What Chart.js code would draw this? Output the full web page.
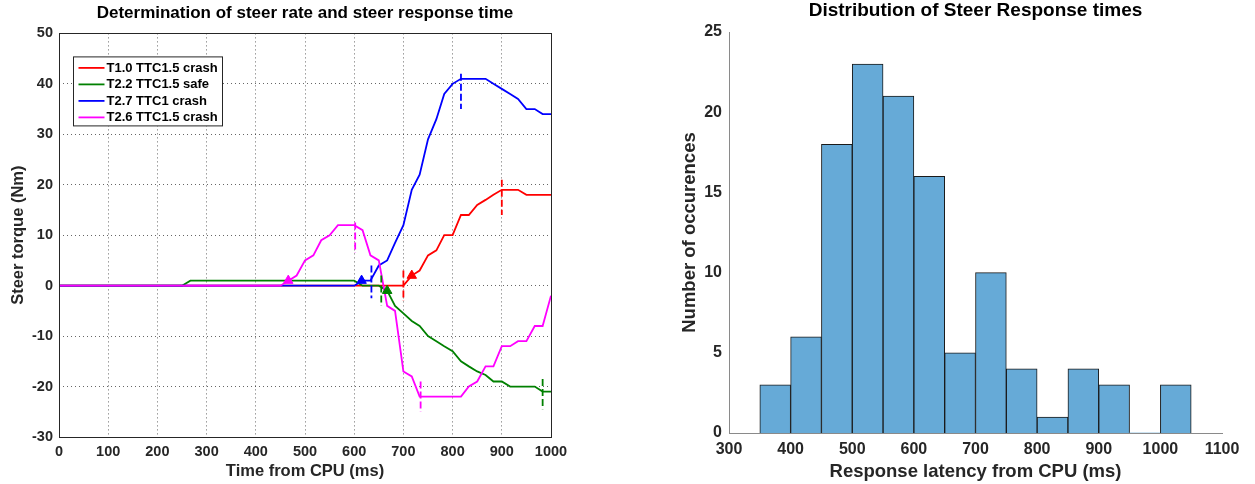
<!DOCTYPE html>
<html>
<head>
<meta charset="utf-8">
<script src="https://cdn.jsdelivr.net/npm/chart.js@4.4.0/dist/chart.umd.min.js"></script>
<style>
  body { margin: 0; background: #fff; width: 1255px; height: 484px; overflow: hidden; position: relative; }
  .panel { position: absolute; top: 0; height: 484px; }
  #left { left: 0; width: 600px; }
  #right { left: 620px; width: 635px; }
</style>
</head>
<body>
<div class="panel" id="left"><canvas id="steerChart"></canvas></div>
<div class="panel" id="right"><canvas id="histChart"></canvas></div>
<script>
// steer torque traces (time in ms from CPU, torque in Nm)
const t10Time   = [0, 700, 717, 733, 750, 767, 783, 800, 817, 833, 850, 867, 883, 900, 917, 933, 950, 967, 983, 1000];
const t10Torque = [0, 0, 2, 3, 6, 7, 10, 10, 14, 14, 16, 17, 18, 19, 19, 19, 18, 18, 18, 18];

const t22Time   = [0, 250, 267, 600, 617, 633, 650, 667, 683, 700, 717, 733, 750, 767, 783, 800, 817, 833, 850, 867, 883, 900, 917, 933, 950, 967, 983, 1000];
const t22Torque = [0, 0, 1, 1, 0, 0, 0, -1, -4, -5.5, -7, -8, -10, -11, -12, -13, -15, -16, -17, -17.7, -19, -19, -20, -20, -20, -20, -21, -21];

const t27Time   = [0, 600, 617, 633, 650, 667, 683, 700, 717, 733, 750, 767, 783, 800, 817, 833, 850, 867, 883, 900, 917, 933, 950, 967, 983, 1000];
const t27Torque = [0, 0, 1, 1, 4, 5, 8.5, 12, 19, 22, 29, 33, 38, 40, 41, 41, 41, 41, 40, 39, 38, 37, 35, 35, 34, 34];

const t26Time   = [0, 450, 467, 483, 500, 517, 533, 550, 567, 583, 600, 617, 633, 650, 667, 683, 700, 717, 733, 750, 767, 783, 800, 817, 833, 850, 867, 883, 900, 917, 933, 950, 967, 983, 1000];
const t26Torque = [0, 0, 1, 2, 5, 6, 9, 10, 12, 12, 12, 11, 6, 5, -4, -5, -17, -18, -22, -22, -22, -22, -22, -22, -20, -19, -16, -16, -12, -12, -11, -11, -8, -8, -2];

const traceLabels = ['T1.0 TTC1.5 crash', 'T2.2 TTC1.5 safe', 'T2.7 TTC1 crash', 'T2.6 TTC1.5 crash'];
const traceColors = ['#ff0000', '#008000', '#0000ff', '#ff00ff'];

// steer onset (triangle) per trace
const onsetTime   = [717, 667, 615, 466];
const onsetTorque = [2, -1, 1, 1];

// dashed markers: response start and peak torque
const startTime   = [700, 655, 635, 602];
const startTop    = [3, 2, 4, 12.5];
const startBottom = [-3, -4, -2.5, 6.5];
const peakTime    = [900, 983, 817, 735];
const peakTop     = [21, -18.5, 42, -19];
const peakBottom  = [14, -24.5, 35, -25];

// histogram of response latency
const binCenters = [375, 425, 475, 525, 575, 625, 675, 725, 775, 825, 875, 925, 975, 1025];
const binCounts  = [3, 6, 18, 23, 21, 16, 5, 10, 4, 1, 4, 3, 0, 3];

const FONT = '"Liberation Sans", Arial, Helvetica, sans-serif';
const AXIS_TXT = '#262626';

const toPoints = (xs, ys) => xs.map((x, i) => ({ x: x, y: ys[i] }));
const plainTick = (v) => String(v);

const traces = [
  [t10Time, t10Torque],
  [t22Time, t22Torque],
  [t27Time, t27Torque],
  [t26Time, t26Torque]
];

const steerDatasets = [];
traces.forEach(([xs, ys], i) => {
  steerDatasets.push({
    label: traceLabels[i],
    data: toPoints(xs, ys),
    borderColor: traceColors[i],
    borderWidth: 1.8,
    pointRadius: 0,
    tension: 0,
    order: 4 - i
  });
});
traceColors.forEach((c, i) => {
  steerDatasets.push({
    data: [{ x: startTime[i], y: startTop[i] }, { x: startTime[i], y: startBottom[i] }],
    borderColor: c, borderWidth: 1.8, borderDash: [7, 3], pointRadius: 0, order: 0
  });
  steerDatasets.push({
    data: [{ x: peakTime[i], y: peakTop[i] }, { x: peakTime[i], y: peakBottom[i] }],
    borderColor: c, borderWidth: 1.8, borderDash: [7, 3], pointRadius: 0, order: 0
  });
});
steerDatasets.push({
  data: toPoints(onsetTime, onsetTorque),
  showLine: false,
  pointStyle: 'triangle',
  pointRadius: 5.5,
  pointBackgroundColor: traceColors,
  pointBorderColor: traceColors,
  pointBorderWidth: 1,
  order: 0
});

// box around plot + legend in the upper-left corner
const framePlugin = {
  id: 'frame',
  afterDatasetsDraw(chart) {
    const { ctx, chartArea: a } = chart;
    ctx.save();
    ctx.strokeStyle = AXIS_TXT;
    ctx.lineWidth = 1;
    ctx.strokeRect(Math.round(a.left) + 0.5, Math.round(a.top) + 0.5,
      Math.round(a.right - a.left), Math.round(a.bottom - a.top));

    const bx = a.left + 14.5, by = a.top + 23.5, bw = 149, bh = 69;
    ctx.fillStyle = '#fff';
    ctx.fillRect(bx, by, bw, bh);
    ctx.strokeStyle = '#262626';
    ctx.strokeRect(bx, by, bw, bh);
    ctx.font = 'bold 13px ' + FONT;
    ctx.textBaseline = 'middle';
    traceLabels.forEach((lab, i) => {
      const y = by + 11 + i * 16.5;
      ctx.strokeStyle = traceColors[i];
      ctx.lineWidth = 1.8;
      ctx.beginPath();
      ctx.moveTo(bx + 5, y);
      ctx.lineTo(bx + 31, y);
      ctx.stroke();
      ctx.fillStyle = '#000';
      ctx.fillText(lab, bx + 33, y + 0.5);
    });
    ctx.restore();
  }
};

const zeroPad = (scale) => {
  scale.paddingLeft = 0; scale.paddingRight = 0;
  scale.paddingTop = 0; scale.paddingBottom = 0;
};

new Chart(document.getElementById('steerChart'), {
  type: 'line',
  data: { datasets: steerDatasets },
  options: {
    responsive: true,
    maintainAspectRatio: false,
    animation: false,
    layout: { padding: { left: 0, right: 49, top: 0, bottom: 0 } },
    plugins: {
      legend: { display: false },
      tooltip: { enabled: false },
      title: {
        display: true,
        fullSize: false,
        text: 'Determination of steer rate and steer response time',
        color: '#000',
        font: { family: FONT, size: 17, weight: 'bold' },
        padding: { top: 3, bottom: 10 }
      }
    },
    scales: {
      x: {
        type: 'linear',
        min: 0, max: 1000,
        afterFit: (s) => { s.height = 47; zeroPad(s); },
        ticks: { stepSize: 100, callback: plainTick, color: AXIS_TXT, padding: 6, font: { family: FONT, size: 14.5, weight: 'bold' } },
        grid: { color: 'rgba(0,0,0,0.6)', lineWidth: 1, drawTicks: false },
        border: { display: false, dash: [1, 3] },
        title: { display: true, text: 'Time from CPU (ms)', color: AXIS_TXT,
          font: { family: FONT, size: 16.5, weight: 'bold' }, padding: { top: 0, bottom: 3 } }
      },
      y: {
        type: 'linear',
        min: -30, max: 50,
        afterFit: (s) => { s.width = 59; zeroPad(s); },
        ticks: { stepSize: 10, callback: plainTick, color: AXIS_TXT, padding: 6, font: { family: FONT, size: 14.5, weight: 'bold' } },
        grid: { color: 'rgba(0,0,0,0.6)', lineWidth: 1, drawTicks: false },
        border: { display: false, dash: [1, 3] },
        title: { display: true, text: 'Steer torque (Nm)', color: AXIS_TXT,
          font: { family: FONT, size: 16.5, weight: 'bold' }, padding: { top: 9, bottom: 0 } }
      }
    }
  },
  plugins: [framePlugin]
});

new Chart(document.getElementById('histChart'), {
  type: 'bar',
  data: {
    datasets: [{
      data: toPoints(binCenters, binCounts),
      backgroundColor: 'rgb(102,170,215)',
      borderColor: '#1a1a1a',
      borderWidth: (c) => (c.raw && c.raw.y ? 1 : 0),
      borderSkipped: 'start',
      barPercentage: 1,
      categoryPercentage: 1
    }]
  },
  options: {
    responsive: true,
    maintainAspectRatio: false,
    animation: false,
    layout: { padding: { left: 0, right: 33, top: 0, bottom: 0 } },
    plugins: {
      legend: { display: false },
      tooltip: { enabled: false },
      title: {
        display: true,
        fullSize: false,
        text: 'Distribution of Steer Response times',
        color: '#000',
        font: { family: FONT, size: 19, weight: 'bold', lineHeight: 1 },
        padding: { top: 1, bottom: 12 }
      }
    },
    scales: {
      x: {
        type: 'linear',
        min: 300, max: 1100,
        offset: false,
        afterFit: (s) => { s.height = 51; zeroPad(s); },
        ticks: { stepSize: 100, callback: plainTick, color: AXIS_TXT, padding: 7, font: { family: FONT, size: 16, weight: 'bold' } },
        grid: { display: false, offset: false, drawTicks: false },
        border: { display: true, color: '#8a8a8a', width: 1 },
        title: { display: true, text: 'Response latency from CPU (ms)', color: AXIS_TXT,
          font: { family: FONT, size: 18.5, weight: 'bold' }, padding: { top: 0, bottom: 1 } }
      },
      y: {
        type: 'linear',
        min: 0, max: 25,
        afterFit: (s) => { s.width = 109; zeroPad(s); },
        ticks: { stepSize: 5, callback: plainTick, color: AXIS_TXT, padding: 7, font: { family: FONT, size: 16, weight: 'bold' } },
        grid: { display: false, drawTicks: false },
        border: { display: true, color: '#8a8a8a', width: 1 },
        title: { display: true, text: 'Number of occurences', color: AXIS_TXT,
          font: { family: FONT, size: 18.5, weight: 'bold' }, padding: { top: 59, bottom: 0 } }
      }
    }
  }
});
</script>
</body>
</html>
